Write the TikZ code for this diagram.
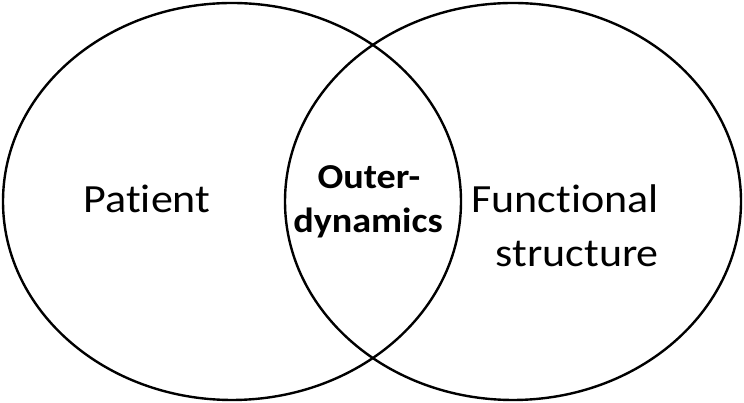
\documentclass[tikz,border=0pt]{standalone}
\usepackage{fontspec}
\setmainfont{Carlito}[Ligatures=NoCommon]
\usetikzlibrary{shapes.geometric}
\begin{document}
\begin{tikzpicture}[x=1pt,y=1pt,
  setbox/.style={draw=black,line width=2.4pt,ellipse,inner sep=0pt,minimum width=458pt,minimum height=397pt},
  lbl/.style={font=\fontsize{40}{54}\selectfont,inner sep=0pt,anchor=base,xscale=1.1,transform shape},
  blbl/.style={font=\fontsize{35}{44}\selectfont\bfseries,inner sep=0pt,anchor=base,xscale=1.09,transform shape}]
\useasboundingbox (0,0) rectangle (744,403);
\node[setbox] (left) at (232,201.5) {};
\node[setbox,minimum width=456pt] (right) at (513,201.5) {};
\node[lbl] (patient) at (147,190) {Patient};
\node[lbl,anchor=base east] (func) at (659,190) {Functional};
\node[lbl,anchor=base east] (struct) at (659,136) {structure};
\node[blbl] (outer) at (369,214) {Outer-};
\node[blbl] (dyn) at (368,170) {dynamics};
\end{tikzpicture}
\end{document}
